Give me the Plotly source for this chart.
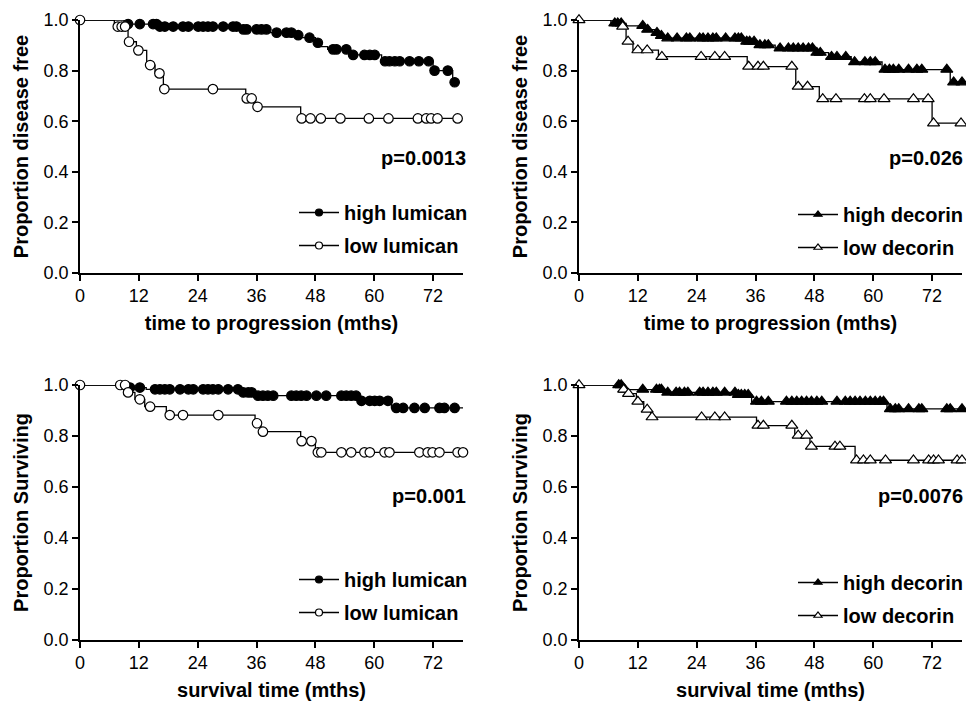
import numpy as np
import plotly.graph_objects as go

# ---------------- data ----------------
months_ticks = [0, 12, 24, 36, 48, 60, 72]
prop_ticks = [0.0, 0.2, 0.4, 0.6, 0.8, 1.0]

# Panel A: time to progression, lumican
dfs_high_lum_event_t = [9.0, 16.0, 32.5, 38.5, 43.8, 44.8, 48.0, 49.0, 50.5, 55.0, 61.5, 72.0, 76.0]
dfs_high_lum_event_s = [0.984, 0.974, 0.963, 0.95, 0.94, 0.93, 0.91, 0.895, 0.884, 0.862, 0.837, 0.80, 0.754]
dfs_high_lum_censor = [9.8, 12.2, 14.9, 15.6, 16.3, 17.3, 19.0, 21.0, 22.1, 24.1, 25.1, 26.1, 27.1, 29.2,
                       31.2, 31.9, 33.3, 34.0, 36.0, 37.0, 38.0, 40.1, 42.1, 43.1, 44.5, 46.8, 48.5, 51.6,
                       52.3, 54.3, 55.7, 58.0, 59.1, 60.1, 62.2, 63.1, 64.2, 65.2, 67.2, 69.1, 71.1, 72.3,
                       75.0, 76.4]
dfs_low_lum_event_t = [7.0, 9.8, 11.5, 13.6, 15.3, 17.0, 33.8, 35.5, 45.0]
dfs_low_lum_event_s = [0.974, 0.914, 0.88, 0.822, 0.789, 0.727, 0.69, 0.657, 0.611]
dfs_low_lum_censor = [0, 7.7, 8.5, 9.2, 10.0, 11.9, 14.3, 16.2, 17.2, 27.1, 34.0, 35.0, 36.2, 45.2,
                      47.0, 49.1, 53.1, 58.9, 62.9, 68.9, 70.6, 71.6, 72.9, 77.0]

# Panel B: time to progression, decorin
dfs_high_dec_event_t = [6.5, 9.6, 13.7, 15.4, 16.4, 17.4, 33.5, 36.2, 40.0, 48.0, 50.9, 55.5, 61.8, 75.7]
dfs_high_dec_event_s = [0.987, 0.977, 0.962, 0.95, 0.938, 0.928, 0.915, 0.901, 0.888, 0.871, 0.855,
                        0.834, 0.804, 0.754]
dfs_high_dec_censor = [7.3, 7.9, 8.6, 13.0, 14.0, 15.9, 16.8, 18.1, 20.0, 21.9, 22.6, 24.6, 25.3, 26.3,
                       27.3, 28.0, 29.9, 31.8, 32.5, 33.1, 34.2, 34.8, 35.7, 36.9, 37.9, 38.6, 41.0, 42.7,
                       43.7, 44.7, 45.7, 46.8, 47.6, 48.5, 49.2, 51.5, 52.6, 54.4, 56.2, 58.3, 59.4, 60.4,
                       62.4, 63.3, 64.1, 65.2, 67.2, 68.9, 69.9, 75.0, 76.4, 78.1]
dfs_low_dec_event_t = [8.2, 9.6, 11.0, 16.2, 34.3, 44.2, 49.0, 72.0]
dfs_low_dec_event_s = [0.974, 0.915, 0.881, 0.855, 0.816, 0.737, 0.688, 0.592]
dfs_low_dec_censor = [0, 8.9, 10.0, 12.0, 13.9, 16.9, 24.9, 27.7, 29.7, 34.6, 36.5, 37.6, 43.4, 44.7,
                      46.6, 49.7, 52.4, 58.2, 59.4, 62.2, 68.2, 71.2, 72.3, 77.9]

# Panel C: survival, lumican
os_high_lum_event_t = [9.2, 13.5, 32.6, 35.6, 57.0, 63.5]
os_high_lum_event_s = [0.99, 0.983, 0.971, 0.958, 0.938, 0.91]
os_high_lum_censor = [10.2, 12.2, 15.3, 16.3, 17.3, 18.3, 20.4, 22.1, 23.1, 25.1, 26.1, 27.1, 28.2, 30.2,
                      32.2, 33.3, 34.3, 35.0, 36.3, 37.3, 38.3, 39.4, 43.1, 44.1, 45.1, 46.2, 48.2, 50.2,
                      53.3, 54.3, 55.3, 56.3, 57.4, 59.1, 60.1, 61.1, 62.8, 64.5, 65.9, 68.2, 70.3, 73.3,
                      74.3, 76.4, 78.2]
os_low_lum_event_t = [9.5, 11.2, 13.2, 17.6, 35.7, 36.9, 45.0, 48.0]
os_low_lum_event_s = [0.971, 0.944, 0.915, 0.882, 0.85, 0.817, 0.78, 0.736]
os_low_lum_censor = [0, 8.2, 9.2, 9.8, 12.2, 14.3, 18.3, 21.0, 28.2, 36.1, 37.3, 45.2, 47.2, 48.5, 49.2,
                     53.3, 55.3, 58.0, 59.1, 62.1, 63.1, 69.2, 70.9, 71.9, 73.3, 77.0, 78.1]

# Panel D: survival, decorin
os_high_dec_event_t = [8.9, 17.5, 32.1, 35.2, 62.8]
os_high_dec_event_s = [0.982, 0.971, 0.962, 0.935, 0.906]
os_high_dec_censor = [8.1, 8.6, 9.3, 13.0, 15.8, 16.4, 16.8, 18.1, 19.8, 20.5, 21.5, 22.2, 24.6, 25.3,
                      26.3, 27.3, 28.0, 29.7, 31.8, 32.5, 33.1, 33.8, 34.5, 36.2, 37.2, 38.6, 42.3, 43.4,
                      44.4, 45.4, 46.4, 47.4, 48.5, 49.5, 52.6, 54.3, 55.3, 56.3, 57.3, 58.4, 59.4, 60.4,
                      61.4, 62.1, 63.5, 64.5, 65.2, 67.2, 69.3, 69.9, 75.0, 75.7, 78.1]
os_low_dec_event_t = [8.6, 9.6, 11.7, 13.2, 14.6, 36.2, 44.0, 47.1, 56.3]
os_low_dec_event_s = [0.982, 0.966, 0.935, 0.904, 0.874, 0.841, 0.802, 0.759, 0.705]
os_low_dec_censor = [0, 9.1, 10.1, 12.0, 13.9, 14.9, 25.0, 27.7, 29.7, 36.5, 37.6, 43.4, 44.7, 46.4,
                     47.4, 52.2, 53.2, 56.6, 58.0, 59.4, 62.5, 68.2, 71.3, 72.3, 73.3, 77.1, 78.1]

p_values = ["p=0.0013", "p=0.026", "p=0.001", "p=0.0076"]
x_titles = ["time to progression (mths)", "time to progression (mths)",
            "survival time (mths)", "survival time (mths)"]
y_titles = ["Proportion disease free", "Proportion disease free",
            "Proportion Surviving", "Proportion Surviving"]
legend_names = [("high lumican", "low lumican"), ("high decorin", "low decorin"),
                ("high lumican", "low lumican"), ("high decorin", "low decorin")]

# ---------------- layout geometry ----------------
# the page body has an 8px margin, so the figure starts at (8, 8) in the window
OFF = 8
FW, FH = 974 - OFF, 703 - OFF
FONT = "Liberation Sans, Arial, sans-serif"
X_MAX = 78.1


def px_x(sx):
    return (sx - OFF) / FW


def px_y(sy):
    return 1 - (sy - OFF) / FH


left_dom = [px_x(80), px_x(463)]
right_dom = [px_x(579), px_x(962)]
top_dom = [px_y(273), px_y(20)]
bot_dom = [px_y(640), px_y(385)]

panels = [
    dict(xd=left_dom, yd=top_dom, sym="circle", leg_x=473, leg_y=193, p_shift=5, p_y=0.455,
         high=(dfs_high_lum_event_t, dfs_high_lum_event_s, dfs_high_lum_censor),
         low=(dfs_low_lum_event_t, dfs_low_lum_event_s, dfs_low_lum_censor)),
    dict(xd=right_dom, yd=top_dom, sym="triangle-up", leg_x=968, leg_y=195, p_shift=3, p_y=0.455,
         high=(dfs_high_dec_event_t, dfs_high_dec_event_s, dfs_high_dec_censor),
         low=(dfs_low_dec_event_t, dfs_low_dec_event_s, dfs_low_dec_censor)),
    dict(xd=left_dom, yd=bot_dom, sym="circle", leg_x=473, leg_y=560, p_shift=5, p_y=0.565,
         high=(os_high_lum_event_t, os_high_lum_event_s, os_high_lum_censor),
         low=(os_low_lum_event_t, os_low_lum_event_s, os_low_lum_censor)),
    dict(xd=right_dom, yd=bot_dom, sym="triangle-up", leg_x=968, leg_y=563, p_shift=3, p_y=0.565,
         high=(os_high_dec_event_t, os_high_dec_event_s, os_high_dec_censor),
         low=(os_low_dec_event_t, os_low_dec_event_s, os_low_dec_censor)),
]

fig = go.Figure()


def add_km(ev_t, ev_s, cens, symbol, fill, xa, ya):
    ev_t = np.asarray(ev_t, float)
    ev_s = np.asarray(ev_s, float)
    cens = np.asarray(cens, float)
    end = max(cens.max(), ev_t.max())
    lx = np.concatenate([[0.0], ev_t, [end]])
    ly = np.concatenate([[1.0], ev_s, [ev_s[-1]]])
    levels = np.concatenate([[1.0], ev_s])
    cy = levels[np.searchsorted(ev_t, cens, side="right")]
    fig.add_trace(go.Scatter(x=lx, y=ly, mode="lines", xaxis=xa, yaxis=ya,
                             line=dict(color="black", width=1.3, shape="hv"),
                             showlegend=False, hoverinfo="skip", cliponaxis=False))
    size = 9.5 if symbol == "circle" else 10.5
    fig.add_trace(go.Scatter(x=cens, y=cy, mode="markers", xaxis=xa, yaxis=ya,
                             marker=dict(symbol=symbol, size=size, color=fill,
                                         line=dict(color="black", width=1.2)),
                             showlegend=False, hoverinfo="skip", cliponaxis=False))


layout = dict(width=FW, height=FH, margin=dict(l=0, r=0, t=0, b=0),
              paper_bgcolor="white", plot_bgcolor="white",
              font=dict(family=FONT, color="black"), annotations=[])

for i, p in enumerate(panels):
    n = "" if i == 0 else str(i + 1)
    xa, ya = "x" + n, "y" + n
    leg = "legend" + n
    layout["xaxis" + n] = dict(
        domain=p["xd"], anchor=ya, range=[0, X_MAX], tickvals=months_ticks,
        showline=True, linecolor="black", linewidth=1.5, ticks="outside", ticklen=6,
        tickwidth=1.5, tickcolor="black", showgrid=False, zeroline=False,
        tickfont=dict(family=FONT, size=18, color="black"),
        title=dict(text=x_titles[i], standoff=11,
                   font=dict(family=FONT, size=20, color="black", weight="bold")),
        automargin=False, fixedrange=True)
    layout["yaxis" + n] = dict(
        domain=p["yd"], anchor=xa, range=[0, 1.0], tickvals=prop_ticks, tickformat=".1f",
        showline=True, linecolor="black", linewidth=1.5, ticks="outside", ticklen=6,
        tickwidth=1.5, tickcolor="black", showgrid=False, zeroline=False,
        tickfont=dict(family=FONT, size=18, color="black"),
        title=dict(text=y_titles[i], standoff=10,
                   font=dict(family=FONT, size=20, color="black", weight="bold")),
        automargin=False, fixedrange=True)

    add_km(*p["high"], p["sym"], "black", xa, ya)
    add_km(*p["low"], p["sym"], "white", xa, ya)

    # legend entries
    for j, (nm, fill) in enumerate(zip(legend_names[i], ["black", "white"])):
        fig.add_trace(go.Scatter(x=[None], y=[None], mode="lines+markers", name=nm,
                                 xaxis=xa, yaxis=ya, legend=leg, legendgroup=f"g{i}{j}",
                                 line=dict(color="black", width=1.3),
                                 marker=dict(symbol=p["sym"], size=7, color=fill,
                                             line=dict(color="black", width=1.2))))
    layout[leg] = dict(x=px_x(p["leg_x"]), xanchor="right",
                       y=px_y(p["leg_y"]), yanchor="top",
                       bgcolor="rgba(0,0,0,0)", borderwidth=0, tracegroupgap=4,
                       itemwidth=40, itemclick=False,
                       font=dict(family=FONT, size=20, color="black", weight="bold"))

    layout["annotations"].append(dict(
        text=p_values[i], xref=xa + " domain", yref=ya, x=1.0, y=p["p_y"],
        xanchor="right", yanchor="middle", xshift=p["p_shift"], showarrow=False,
        font=dict(family=FONT, size=20, color="black", weight="bold")))

fig.update_layout(**layout)
fig.write_html("out.html")
